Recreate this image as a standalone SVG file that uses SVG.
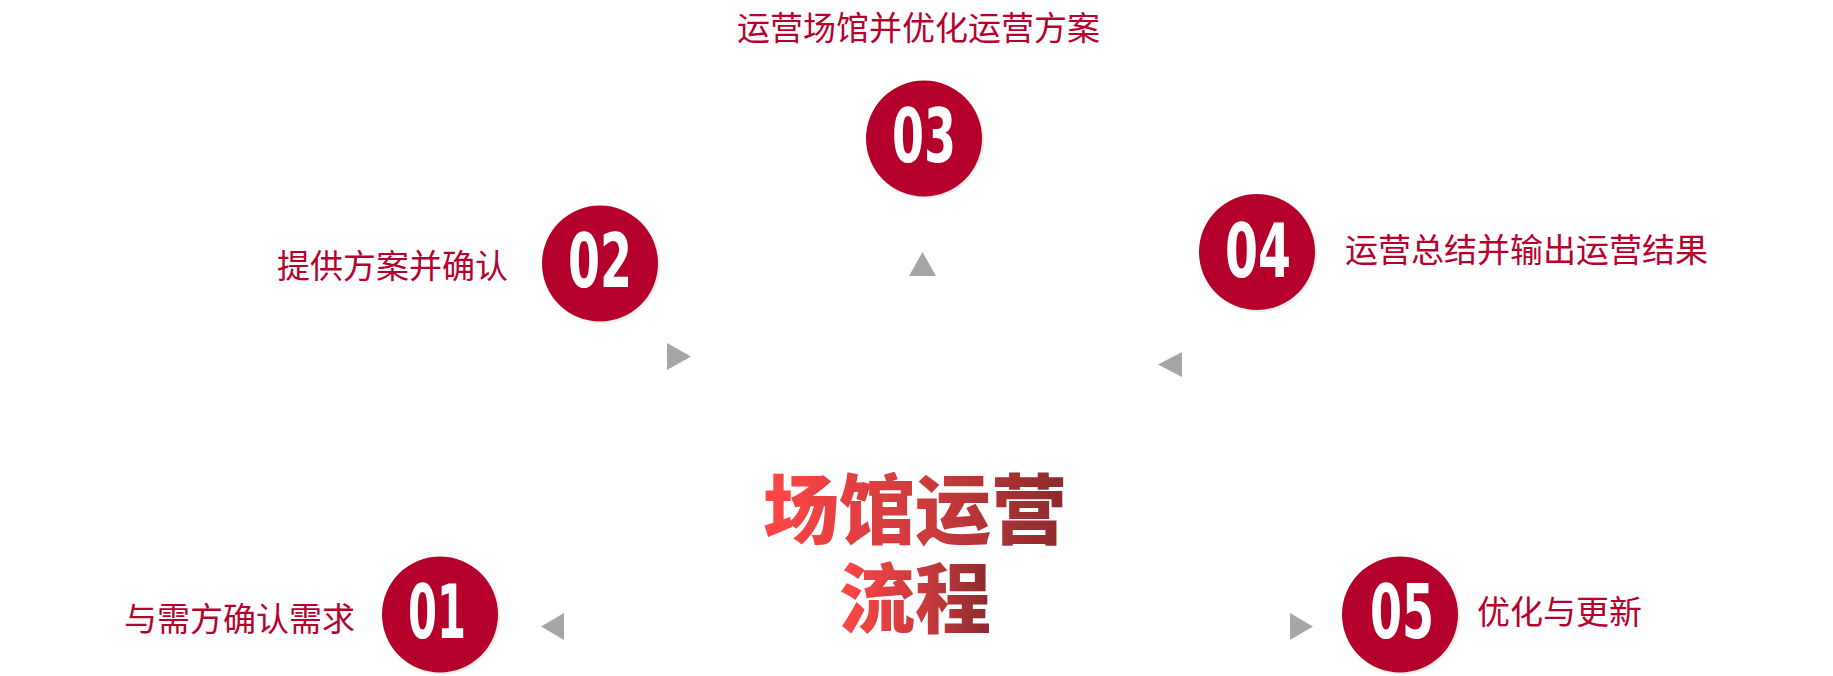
<svg xmlns="http://www.w3.org/2000/svg" width="1833" height="676" viewBox="0 0 1833 676">
<defs>
<linearGradient id="tg1" gradientUnits="userSpaceOnUse" x1="763" y1="0" x2="1067" y2="0">
<stop offset="0" stop-color="#ff4646"/>
<stop offset="0.55" stop-color="#cc3a3c"/>
<stop offset="1" stop-color="#8a2a2e"/>
</linearGradient>
<linearGradient id="tg2" gradientUnits="userSpaceOnUse" x1="840" y1="0" x2="990" y2="0">
<stop offset="0" stop-color="#ff4646"/>
<stop offset="0.55" stop-color="#cc3a3c"/>
<stop offset="1" stop-color="#8a2a2e"/>
</linearGradient>
<style>
.shadow{fill:#ececec}
.disc{fill:#b4002b}
.num{fill:#ffffff;font-family:"Liberation Sans Narrow","DejaVu Sans Condensed","Liberation Sans",sans-serif;font-weight:bold;font-size:74px;text-anchor:middle}
.lbl{fill:#b8002d;font-family:"Noto Sans CJK SC","Noto Sans",sans-serif;font-size:33px}
.title{font-family:"Noto Sans CJK SC",sans-serif;font-weight:900;font-size:76px;text-anchor:middle}
.tri{fill:#a6a6a6}
</style>
</defs>
<rect width="1833" height="676" fill="#ffffff"/>
<g id="connectors">
<polygon class="tri" points="922.5,252 936,276 909,276"/>
<polygon class="tri" points="667,343 691,356.5 667,370"/>
<polygon class="tri" points="1182,352 1158,364.5 1182,377"/>
<polygon class="tri" points="564,613 541,626.5 564,640"/>
<polygon class="tri" points="1290,613 1313,626.5 1290,640"/>
</g>
<g id="title">
<text class="title"><tspan x="915" y="538" fill="url(#tg1)">场馆运营</tspan><tspan x="915" y="627" fill="url(#tg2)">流程</tspan></text>
</g>
<g id="node03">
<circle class="shadow" cx="925.5" cy="140" r="58.5"/>
<circle class="disc" cx="924" cy="138.5" r="58"/>
<text class="num" x="924" y="162" textLength="64" lengthAdjust="spacingAndGlyphs">03</text>
<text class="lbl" x="737" y="40">运营场馆并优化运营方案</text>
</g>
<g id="node02">
<circle class="shadow" cx="601.5" cy="265" r="58.5"/>
<circle class="disc" cx="600" cy="263.5" r="58"/>
<text class="num" x="600" y="287" textLength="64" lengthAdjust="spacingAndGlyphs">02</text>
<text class="lbl" x="277" y="278">提供方案并确认</text>
</g>
<g id="node04">
<circle class="shadow" cx="1258.5" cy="253.5" r="58.5"/>
<circle class="disc" cx="1257" cy="252" r="58"/>
<text class="num" x="1258" y="277" textLength="66" lengthAdjust="spacingAndGlyphs">04</text>
<text class="lbl" x="1345" y="262">运营总结并输出运营结果</text>
</g>
<g id="node01">
<circle class="shadow" cx="441.5" cy="616" r="58.5"/>
<circle class="disc" cx="440" cy="614.5" r="58"/>
<text class="num" x="437" y="638" textLength="58" lengthAdjust="spacingAndGlyphs">01</text>
<text class="lbl" x="124" y="631">与需方确认需求</text>
</g>
<g id="node05">
<circle class="shadow" cx="1401.5" cy="616" r="58.5"/>
<circle class="disc" cx="1400" cy="614.5" r="58"/>
<text class="num" x="1402" y="638" textLength="64" lengthAdjust="spacingAndGlyphs">05</text>
<text class="lbl" x="1477" y="624">优化与更新</text>
</g>
</svg>
